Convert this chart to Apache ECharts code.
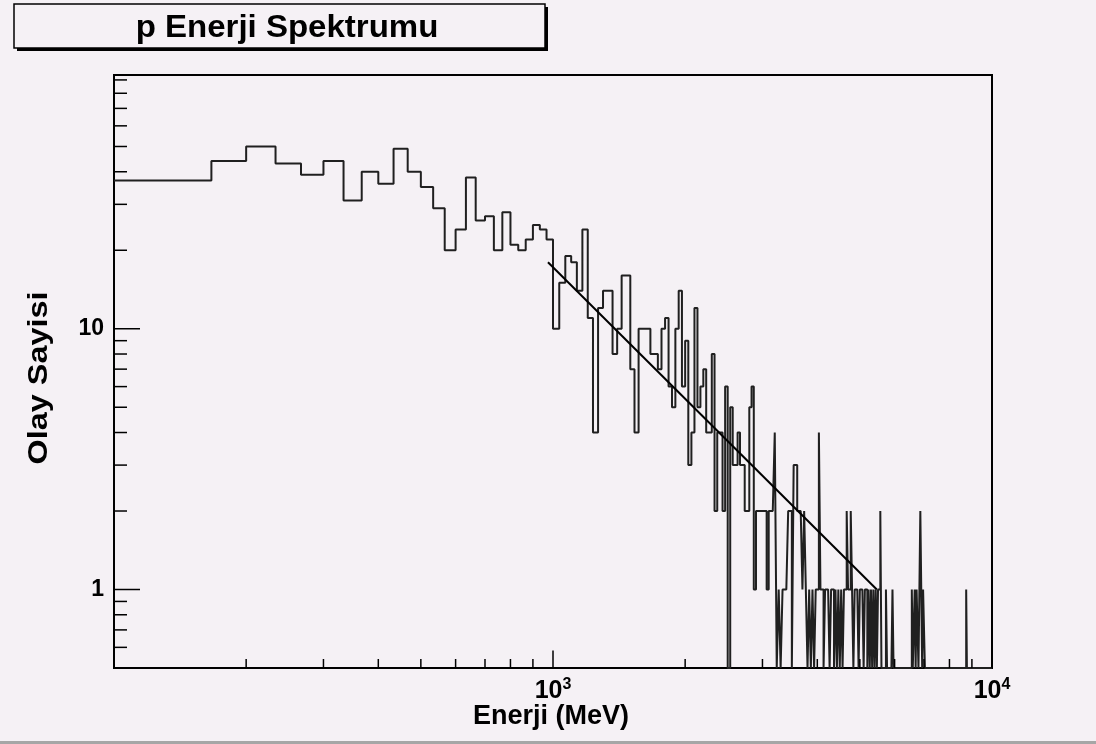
<!DOCTYPE html>
<html>
<head>
<meta charset="utf-8">
<script src="https://cdn.jsdelivr.net/npm/echarts@6/dist/echarts.min.js"></script>
<style>
  html, body { margin: 0; padding: 0; background: #f5f1f5; }
  #chart { width: 1096px; height: 744px; }
</style>
</head>
<body>
<div id="chart"></div>
<script>
// Proton energy spectrum: 33.3 MeV wide bins starting at 100 MeV (counts per bin)
const histStart = 100;
const binWidth = 100 / 3;

const counts100to1000 = [37, 37, 44, 50, 43, 39, 44, 31, 40, 36, 49, 40, 35, 29, 20, 24, 38, 26, 27, 20, 28, 21, 20, 22, 25, 24, 22];
const counts1000to2000 = [10, 15, 19, 18, 14, 24, 11, 4, 12, 14, 14, 8, 10, 16, 16, 7, 4, 10, 10, 10, 8, 8, 7, 10, 11, 6, 5, 10, 14, 6];
const counts2000to3000 = [9, 3, 4, 12, 5, 6, 7, 4, 4, 8, 2, 4, 4, 2, 6, 0, 5, 3, 3, 4, 3, 3, 2, 2, 5, 6, 1, 2, 2, 2];
const counts3000to5000 = [
  2, 2, 1, 2, 2, 2, 4, 0, 1, 0,
  1, 1, 1, 2, 2, 0, 3, 3, 2, 2,
  2, 1, 2, 1, 0, 1, 0, 1, 0, 1,
  1, 4, 1, 1, 0, 1, 1, 1, 0, 1,
  1, 0, 1, 0, 1, 0, 1, 0, 1, 1,
  2, 1, 1, 2, 1, 0, 1, 1, 1, 0
];
const counts5000to7000 = [
  1, 1, 1, 0, 1, 1, 0, 1, 0, 1,
  0, 1, 0, 1, 0, 1, 1, 2, 0, 0,
  0, 0, 1, 0, 0, 0, 0, 0, 1, 0,
  0, 0, 0, 0, 0, 0, 0, 0, 0, 0,
  0, 0, 0, 0, 0, 0, 0, 1, 0, 0,
  1, 0, 1, 1, 0, 1, 2, 1, 0, 1
];
const counts7000to10000 = [
  1, 0, 0, 0, 0, 0, 0, 0, 0, 0,
  0, 0, 0, 0, 0, 0, 0, 0, 0, 0,
  0, 0, 0, 0, 0, 0, 0, 0, 0, 0,
  0, 0, 0, 0, 0, 0, 0, 0, 0, 0,
  0, 0, 0, 0, 0, 0, 0, 0, 0, 0,
  0, 0, 1, 0, 0, 0, 0, 0, 0, 0,
  0, 0, 0, 0, 0, 0, 0, 0, 0, 0,
  0, 0, 0, 0, 0, 0, 0, 0, 0, 0,
  0, 0, 0, 0, 0, 0, 0, 0, 0, 0
];

// Power-law fit drawn between its two end points (straight on log-log axes)
const fitPoints = [[974, 17.98], [5465, 1]];

// Axis ranges and tick values
const xRange = [100, 10000];
const yRange = [0.5, 94];
const xMajorTicks = [1000, 10000];
const xMinorTicks = [200, 300, 400, 500, 600, 700, 800, 900, 2000, 3000, 4000, 5000, 6000, 7000, 8000, 9000];
const yMajorTicks = [1, 10];
const yMinorTicks = [0.6, 0.7, 0.8, 0.9, 2, 3, 4, 5, 6, 7, 8, 9, 20, 30, 40, 50, 60, 70, 80, 90];

const titleText = 'p Enerji Spektrumu';
const xTitle = 'Enerji (MeV)';
const yTitle = 'Olay Sayisi';

const FONT = '"Liberation Sans", Arial, Helvetica, sans-serif';
const BG = '#f5f1f5';

const counts = [].concat(counts100to1000, counts1000to2000, counts2000to3000,
  counts3000to5000, counts5000to7000, counts7000to10000);

// Empty bins sit on the bottom of the frame, as on a log-scaled histogram
const histPoints = counts.map((c, i) => [histStart + i * binWidth, c > 0 ? c : yRange[0]]);
histPoints.push([histStart + counts.length * binWidth, histPoints[histPoints.length - 1][1]]);

function tickSeries(values, axis, len) {
  return {
    type: 'custom',
    silent: true,
    clip: false,
    z: 10,
    animation: false,
    data: values.map(v => axis === 'x' ? [v, yRange[0]] : [xRange[0], v]),
    renderItem: (params, api) => {
      const p = api.coord([api.value(0), api.value(1)]);
      const shape = axis === 'x'
        ? { x1: p[0], y1: p[1], x2: p[0], y2: p[1] - len }
        : { x1: p[0], y1: p[1], x2: p[0] + len, y2: p[1] };
      return { type: 'line', shape, style: { stroke: '#000', lineWidth: 1.5 } };
    }
  };
}

const chart = echarts.init(document.getElementById('chart'), null, { renderer: 'canvas' });

chart.setOption({
  backgroundColor: BG,
  animation: false,
  textStyle: { fontFamily: FONT },
  grid: {
    left: 114, right: 104, top: 75, bottom: 76,
    show: true, borderColor: '#000', borderWidth: 2, backgroundColor: 'transparent'
  },
  xAxis: {
    type: 'log',
    min: xRange[0], max: xRange[1],
    axisLine: { show: false },
    axisTick: { show: false },
    splitLine: { show: false },
    minorTick: { show: false },
    axisLabel: {
      margin: 9,
      formatter: v => v < 500 ? '' : '{b|10}{e|' + Math.round(Math.log10(v)) + '}',
      rich: {
        b: { fontFamily: FONT, fontWeight: 'bold', fontSize: 25, color: '#000' },
        e: { fontFamily: FONT, fontWeight: 'bold', fontSize: 16, color: '#000', verticalAlign: 'bottom', padding: [0, 0, 13, 0] }
      }
    }
  },
  yAxis: {
    type: 'log',
    min: yRange[0], max: yRange[1],
    axisLine: { show: false },
    axisTick: { show: false },
    splitLine: { show: false },
    minorTick: { show: false },
    axisLabel: {
      margin: 10,
      fontFamily: FONT, fontWeight: 'bold', fontSize: 23, color: '#000',
      formatter: v => (v === 1 || v === 10) ? String(v) : ''
    }
  },
  series: [
    {
      type: 'line',
      data: histPoints,
      step: 'end',
      showSymbol: false,
      clip: true,
      z: 3,
      lineStyle: { color: '#202020', width: 2 }
    },
    {
      type: 'line',
      data: fitPoints,
      showSymbol: false,
      clip: true,
      z: 4,
      lineStyle: { color: '#000', width: 2 }
    },
    tickSeries(xMajorTicks, 'x', 17.5),
    tickSeries(xMinorTicks, 'x', 9),
    tickSeries(yMajorTicks, 'y', 26),
    tickSeries(yMinorTicks, 'y', 13)
  ],
  graphic: [
    // title box with drop shadow
    { type: 'rect', shape: { x: 17, y: 7, width: 531, height: 44 }, style: { fill: '#000' }, z: 100 },
    { type: 'rect', shape: { x: 14, y: 4, width: 531, height: 44 }, style: { fill: BG, stroke: '#000', lineWidth: 1.5 }, z: 101 },
    { type: 'text', x: 287, y: 28, scaleX: 1.065, z: 102,
      style: { text: titleText, fontFamily: FONT, fontWeight: 'bold', fontSize: 31, fill: '#000', align: 'center', verticalAlign: 'middle' } },
    // axis titles
    { type: 'text', x: 551, y: 717, z: 102,
      style: { text: xTitle, fontFamily: FONT, fontWeight: 'bold', fontSize: 27, fill: '#000', align: 'center', verticalAlign: 'middle' } },
    { type: 'text', x: 40, y: 378, rotation: Math.PI / 2, scaleX: 1.2, z: 102,
      style: { text: yTitle, fontFamily: FONT, fontWeight: 'bold', fontSize: 27, fill: '#000', align: 'center', verticalAlign: 'middle' } },
    // lower window edge
    { type: 'rect', shape: { x: 0, y: 741, width: 1096, height: 3 }, style: { fill: '#a6a6a6' }, z: 100 }
  ]
});
</script>
</body>
</html>
